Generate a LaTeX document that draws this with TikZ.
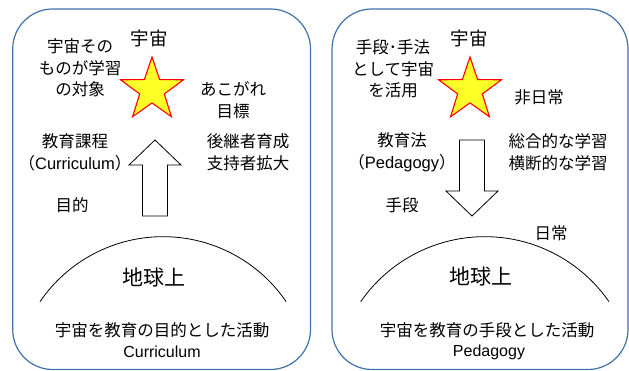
\documentclass[tikz,border=0pt]{standalone}
\usepackage{fontspec}
\setmainfont{Noto Sans CJK JP}
\newfontfamily\lat{Liberation Sans}
\usetikzlibrary{shapes.geometric}
\definecolor{boxblue}{RGB}{65,113,170}
\definecolor{staryellow}{RGB}{255,255,40}
\begin{document}
\begin{tikzpicture}[x=1pt,y=1pt,
  panel/.style={draw=boxblue,line width=1.2pt,rounded corners=40pt},
  starnode/.style={star,star points=5,star point ratio=2.55,minimum size=66pt,inner sep=0pt,draw=red,line width=1.1pt,fill=staryellow},
  bigarrow/.style={draw=black,line width=0.8pt,fill=white},
  txt/.style={font=\fontsize{16.5}{21.5}\selectfont,align=center,inner sep=0pt},
  title/.style={font=\fontsize{18.5}{22}\selectfont,inner sep=0pt},
  earth/.style={font=\fontsize{21}{24}\selectfont,inner sep=0pt},
  latlbl/.style={font=\lat\fontsize{16}{18}\selectfont,inner sep=0pt},
  arcline/.style={draw=black,line width=0.8pt}]
\useasboundingbox (0,0) rectangle (629,371);
\fill[white] (0,0) rectangle (629,371);

% panels
\draw[panel] (12.7,1.5) rectangle (310.5,362);
\draw[panel] (332,1.5) rectangle (628,362);

% ---------- left panel ----------
\node[starnode] (lstar) at (152,281) {};
\node[title] (ltitle) at (149,333) {宇宙};
\node[txt] (lobj) at (80,303) {宇宙その\\ものが学習\\の対象};
\node[txt] (lgoal) at (233,271) {あこがれ\\目標};
\node[txt] (lcur) at (75,218.5) {教育課程\\（{\lat Curriculum}）};
\node[txt] (lsucc) at (248,218.5) {後継者育成\\支持者拡大};
\node[txt] (lpurp) at (72,166) {目的};
\draw[bigarrow] (155,231) -- (181,206) -- (167.5,206) -- (167.5,155)
  -- (142.5,155) -- (142.5,206) -- (129,206) -- cycle;
\coordinate (larcL) at (40,69.3);
\draw[arcline] (larcL) arc[start angle=145.7,end angle=34.3,radius=149];
\node[earth] (learth) at (154,93) {地球上};
\node[txt] (lact) at (162,41) {宇宙を教育の目的とした活動};
\node[latlbl] (lcurl) at (162,19) {Curriculum};

% ---------- right panel ----------
\node[starnode] (rstar) at (470,281) {};
\node[title] (rtitle) at (469,333) {宇宙};
\node[txt] (rmeans) at (393,302) {手段･手法\\として宇宙\\を活用};
\node[txt] (rnon) at (539,274) {非日常};
\node[txt] (rped) at (402,218.5) {教育法\\（{\lat Pedagogy}）};
\node[txt] (rint) at (558,218.5) {総合的な学習\\横断的な学習};
\node[txt] (rmeans2) at (402,166) {手段};
\node[txt] (rdaily) at (551,138) {日常};
\draw[bigarrow] (459.5,231) -- (484.5,231) -- (484.5,180) -- (498,180)
  -- (472,155) -- (446,180) -- (459.5,180) -- cycle;
\coordinate (rarcL) at (360.7,69.3);
\draw[arcline] (rarcL) arc[start angle=145.3,end angle=34.7,radius=151];
\node[earth] (rearth) at (481,94) {地球上};
\node[txt] (ract) at (487,41) {宇宙を教育の手段とした活動};
\node[latlbl] (rpedl) at (489,19) {Pedagogy};
\end{tikzpicture}
\end{document}
